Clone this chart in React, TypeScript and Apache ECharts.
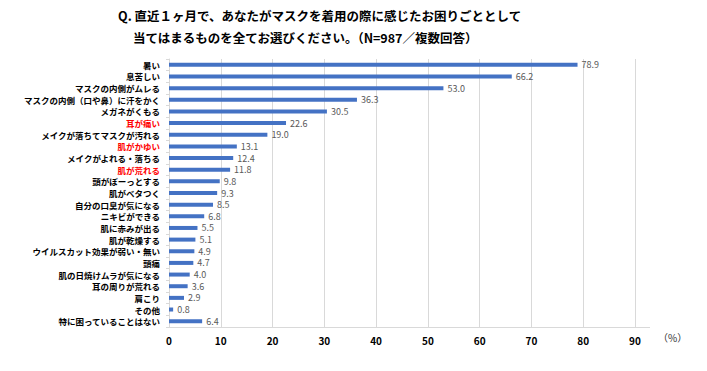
import React, { useEffect, useRef } from "react";
import * as echarts from "echarts";

const categories = [
  "暑い",
  "息苦しい",
  "マスクの内側がムレる",
  "マスクの内側（口や鼻）に汗をかく",
  "メガネがくもる",
  "耳が痛い",
  "メイクが落ちてマスクが汚れる",
  "肌がかゆい",
  "メイクがよれる・落ちる",
  "肌が荒れる",
  "頭がぼーっとする",
  "肌がベタつく",
  "自分の口臭が気になる",
  "ニキビができる",
  "肌に赤みが出る",
  "肌が乾燥する",
  "ウイルスカット効果が弱い・無い",
  "頭痛",
  "肌の日焼けムラが気になる",
  "耳の周りが荒れる",
  "肩こり",
  "その他",
  "特に困っていることはない",
];

const values = [
  78.9, 66.2, 53.0, 36.3, 30.5, 22.6, 19.0, 13.1, 12.4, 11.8, 9.8, 9.3, 8.5,
  6.8, 5.5, 5.1, 4.9, 4.7, 4.0, 3.6, 2.9, 0.8, 6.4,
];

const redCategories = ["耳が痛い", "肌がかゆい", "肌が荒れる"];

const titleLine1 = "Q. 直近１ヶ月で、あなたがマスクを着用の際に感じたお困りごととして";
const titleLine2 = "当てはまるものを全てお選びください。（N=987／複数回答）";
const unitLabel = "（%）";

const FONT = "'Noto Sans CJK JP', 'Noto Sans', sans-serif";

export default function App() {
  const ref = useRef<HTMLDivElement>(null);
  useEffect(() => {
    if (!ref.current) return;
    const chart = echarts.init(ref.current, undefined, { renderer: "svg" });
    chart.setOption({
      animation: false,
      backgroundColor: "#ffffff",
      textStyle: { fontFamily: FONT },
      grid: { left: 169, right: 72, top: 59, bottom: 44, containLabel: false },
      graphic: [
        {
          type: "text",
          left: 118,
          top: 9,
          style: {
            text: titleLine1,
            font: `bold 12.5px ${FONT}`,
            fill: "#000",
          },
        },
        {
          type: "text",
          left: 133,
          top: 31,
          style: {
            text: titleLine2,
            font: `bold 12.5px ${FONT}`,
            fill: "#000",
          },
        },
        {
          type: "line",
          shape: { x1: 635, y1: 327.5, x2: 650, y2: 327.5 },
          style: { stroke: "#d9d9d9", lineWidth: 1 },
        },
        {
          type: "text",
          left: 658,
          top: 332,
          style: {
            text: unitLabel,
            font: `10px ${FONT}`,
            fill: "#333",
          },
        },
      ],
      xAxis: {
        type: "value",
        min: 0,
        max: 90,
        interval: 10,
        axisLine: { show: true, lineStyle: { color: "#d9d9d9" } },
        axisTick: { show: false },
        splitLine: { show: true, lineStyle: { color: "#d9d9d9", width: 1 } },
        axisLabel: {
          color: "#000",
          fontWeight: "bold",
          fontSize: 10,
          fontFamily: FONT,
          margin: 8,
        },
      },
      yAxis: {
        type: "category",
        data: categories,
        inverse: true,
        axisLine: { show: true, lineStyle: { color: "#d9d9d9" } },
        axisTick: { show: true, length: 3, lineStyle: { color: "#d9d9d9" } },
        axisLabel: {
          fontSize: 8.5,
          lineHeight: 10,
          fontWeight: "bold",
          fontFamily: FONT,
          margin: 9,
          color: (v: string) => (redCategories.includes(v) ? "#ff0000" : "#000"),
        },
      },
      series: [
        {
          type: "bar",
          data: values,
          barWidth: 4,
          itemStyle: { color: "#4472c4" },
          label: {
            show: true,
            position: "right",
            distance: 4,
            fontSize: 9,
            lineHeight: 10,
            color: "#595959",
            fontFamily: FONT,
            formatter: (p: any) => Number(p.value).toFixed(1),
          },
        },
      ],
    });
    return () => chart.dispose();
  }, []);
  return (
    <div
      ref={ref}
      style={{ position: "fixed", left: 0, top: 0, width: 707, height: 371 }}
    />
  );
}
